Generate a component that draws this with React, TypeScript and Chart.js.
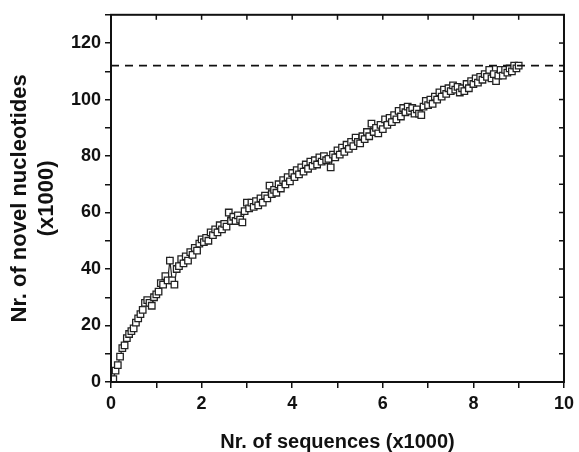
import React, { useEffect, useRef } from "react";
import { Chart, registerables } from "chart.js";

Chart.register(...registerables);

const sequencesK: number[] = [
  0.05, 0.1, 0.15, 0.2, 0.25, 0.3, 0.35, 0.4, 0.45, 0.5,
  0.55, 0.6, 0.65, 0.7, 0.75, 0.8, 0.85, 0.9, 0.95, 1.0,
  1.05, 1.1, 1.15, 1.2, 1.25, 1.3, 1.35, 1.4, 1.45, 1.5,
  1.55, 1.6, 1.65, 1.7, 1.75, 1.8, 1.85, 1.9, 1.95, 2.0,
  2.05, 2.1, 2.15, 2.2, 2.25, 2.3, 2.35, 2.4, 2.45, 2.5,
  2.55, 2.6, 2.65, 2.7, 2.75, 2.8, 2.85, 2.9, 2.95, 3.0,
  3.05, 3.1, 3.15, 3.2, 3.25, 3.3, 3.35, 3.4, 3.45, 3.5,
  3.55, 3.6, 3.65, 3.7, 3.75, 3.8, 3.85, 3.9, 3.95, 4.0,
  4.05, 4.1, 4.15, 4.2, 4.25, 4.3, 4.35, 4.4, 4.45, 4.5,
  4.55, 4.6, 4.65, 4.7, 4.75, 4.8, 4.85, 4.9, 4.95, 5.0,
  5.05, 5.1, 5.15, 5.2, 5.25, 5.3, 5.35, 5.4, 5.45, 5.5,
  5.55, 5.6, 5.65, 5.7, 5.75, 5.8, 5.85, 5.9, 5.95, 6.0,
  6.05, 6.1, 6.15, 6.2, 6.25, 6.3, 6.35, 6.4, 6.45, 6.5,
  6.55, 6.6, 6.65, 6.7, 6.75, 6.8, 6.85, 6.9, 6.95, 7.0,
  7.05, 7.1, 7.15, 7.2, 7.25, 7.3, 7.35, 7.4, 7.45, 7.5,
  7.55, 7.6, 7.65, 7.7, 7.75, 7.8, 7.85, 7.9, 7.95, 8.0,
  8.05, 8.1, 8.15, 8.2, 8.25, 8.3, 8.35, 8.4, 8.45, 8.5,
  8.55, 8.6, 8.65, 8.7, 8.75, 8.8, 8.85, 8.9, 8.95, 9.0,
];

const novelK: number[] = [
  1, 4, 6, 9, 12, 13, 15.5, 17, 18, 19,
  21, 22.5, 24, 25.5, 28, 29, 28, 27, 30, 31,
  32, 35, 34.5, 37.5, 36, 43, 36, 34.5, 40, 41,
  43.5, 42, 44.5, 43, 46, 45, 47.5, 46.5, 49, 50.5,
  49.5, 51, 50, 53, 52, 54, 53, 55.5, 54, 56,
  55, 60, 57, 58.5, 57, 59, 57.5, 56.5, 60.5, 63.5,
  61.5, 63.5, 62, 64, 62.5, 65, 63.5, 66, 65, 69.5,
  66.5, 68, 67, 70, 68.5, 71.5, 70, 72.5, 71, 74,
  72.5, 75, 73.5, 76, 74.5, 77, 75.5, 78, 76.5, 78.5,
  77, 79.5, 78, 80, 78.5, 79, 76, 80.5, 79.5, 82,
  80.5, 83, 81.5, 84, 82.5, 85, 83.5, 86.5, 85, 84.5,
  87, 86, 88.5, 87, 91.5, 88.5, 90, 88, 91, 89.5,
  93, 91, 93.5, 92, 94.5, 93, 96, 94, 97, 95.5,
  97.5, 96, 97, 95, 96.5, 95, 94.5, 97.5, 99.5, 98,
  100, 98.5, 101, 100, 102.5, 101, 103.5, 102, 104, 103,
  105, 103.5, 104.5, 102.5, 104, 103, 105.5, 104, 106.5, 105.5,
  107.5, 106, 108, 107, 109, 108, 110.5, 107.5, 109, 106.5,
  108.5, 110.5, 108.5, 110.5, 109.5, 111, 110, 112, 111, 112,
];

const saturationLevel = 112;
const xRange: number[] = [0, 10];
const yRange: number[] = [0, 130];

const FONT = "'Liberation Sans', Arial, Helvetica, sans-serif";
const INK = "#111";

const framePlugin = {
  id: "frameTicks",
  afterDraw(chart: any) {
    const { ctx, chartArea, scales } = chart;
    const { left, right, top, bottom } = chartArea;
    ctx.save();
    ctx.strokeStyle = INK;
    ctx.lineWidth = 2;
    ctx.strokeRect(left, top, right - left, bottom - top);
    ctx.lineWidth = 1.5;
    const xs = scales.x;
    const ys = scales.y;
    for (let v = xRange[0] + 1; v < xRange[1]; v++) {
      const px = xs.getPixelForValue(v);
      ctx.beginPath();
      ctx.moveTo(px, top);
      ctx.lineTo(px, top + 5);
      ctx.stroke();
    }
    for (let v = yRange[0] + 10; v < yRange[1]; v += 10) {
      const py = ys.getPixelForValue(v);
      ctx.beginPath();
      ctx.moveTo(right, py);
      ctx.lineTo(right - 5, py);
      ctx.stroke();
    }
    ctx.restore();
  },
};

export default function App() {
  const canvasRef = useRef<HTMLCanvasElement | null>(null);

  useEffect(() => {
    if (!canvasRef.current) return;
    const points = sequencesK.map((x, i) => ({ x, y: novelK[i] }));
    const chart = new Chart(canvasRef.current, {
      type: "scatter",
      data: {
        datasets: [
          {
            data: [
              { x: xRange[0], y: saturationLevel },
              { x: xRange[1], y: saturationLevel },
            ],
            showLine: true,
            borderColor: INK,
            borderWidth: 1.8,
            borderDash: [8, 6],
            pointRadius: 0,
          },
          {
            data: points,
            showLine: true,
            borderColor: "#222",
            borderWidth: 1.2,
            pointStyle: "rect",
            pointRadius: 4.6,
            pointBackgroundColor: "#fff",
            pointBorderColor: "#222",
            pointBorderWidth: 1.3,
          },
        ],
      },
      options: {
        animation: false,
        responsive: true,
        maintainAspectRatio: false,
        layout: { padding: { left: 0, right: 13, top: 14, bottom: 0 } },
        plugins: { legend: { display: false }, tooltip: { enabled: false } },
        scales: {
          x: {
            type: "linear",
            min: xRange[0],
            max: xRange[1],
            afterFit: (s: any) => {
              s.height = 70;
            },
            ticks: {
              stepSize: 1,
              autoSkip: false,
              maxRotation: 0,
              padding: 5,
              color: INK,
              font: { family: FONT, size: 18, weight: "bold" },
              callback: (v: any) => (Number(v) % 2 === 0 ? String(v) : ""),
            },
            grid: {
              display: true,
              drawOnChartArea: false,
              drawTicks: true,
              tickLength: 6,
              color: INK,
              lineWidth: 1.5,
            },
            border: { display: true, color: INK, width: 2 },
            title: {
              display: true,
              text: "Nr. of sequences (x1000)",
              color: INK,
              font: { family: FONT, size: 20, weight: "bold" },
              padding: { top: 0, bottom: -2 },
            },
          },
          y: {
            type: "linear",
            min: yRange[0],
            max: yRange[1],
            afterFit: (s: any) => {
              s.width = 111;
            },
            ticks: {
              stepSize: 10,
              autoSkip: false,
              padding: 4,
              color: INK,
              font: { family: FONT, size: 18, weight: "bold" },
              callback: (v: any) => (Number(v) % 20 === 0 ? String(v) : ""),
            },
            grid: {
              display: true,
              drawOnChartArea: false,
              drawTicks: true,
              tickLength: 6,
              color: INK,
              lineWidth: 1.5,
            },
            border: { display: true, color: INK, width: 2 },
            title: {
              display: true,
              text: ["Nr. of novel nucleotides", "(x1000)"],
              color: INK,
              font: { family: FONT, size: 22, weight: "bold" },
              padding: { top: 7, bottom: 0 },
            },
          },
        },
      },
      plugins: [framePlugin],
    });
    return () => chart.destroy();
  }, []);

  return (
    <div style={{ position: "fixed", left: 0, top: 0, width: 579, height: 452, background: "#fff" }}>
      <canvas ref={canvasRef} />
    </div>
  );
}
